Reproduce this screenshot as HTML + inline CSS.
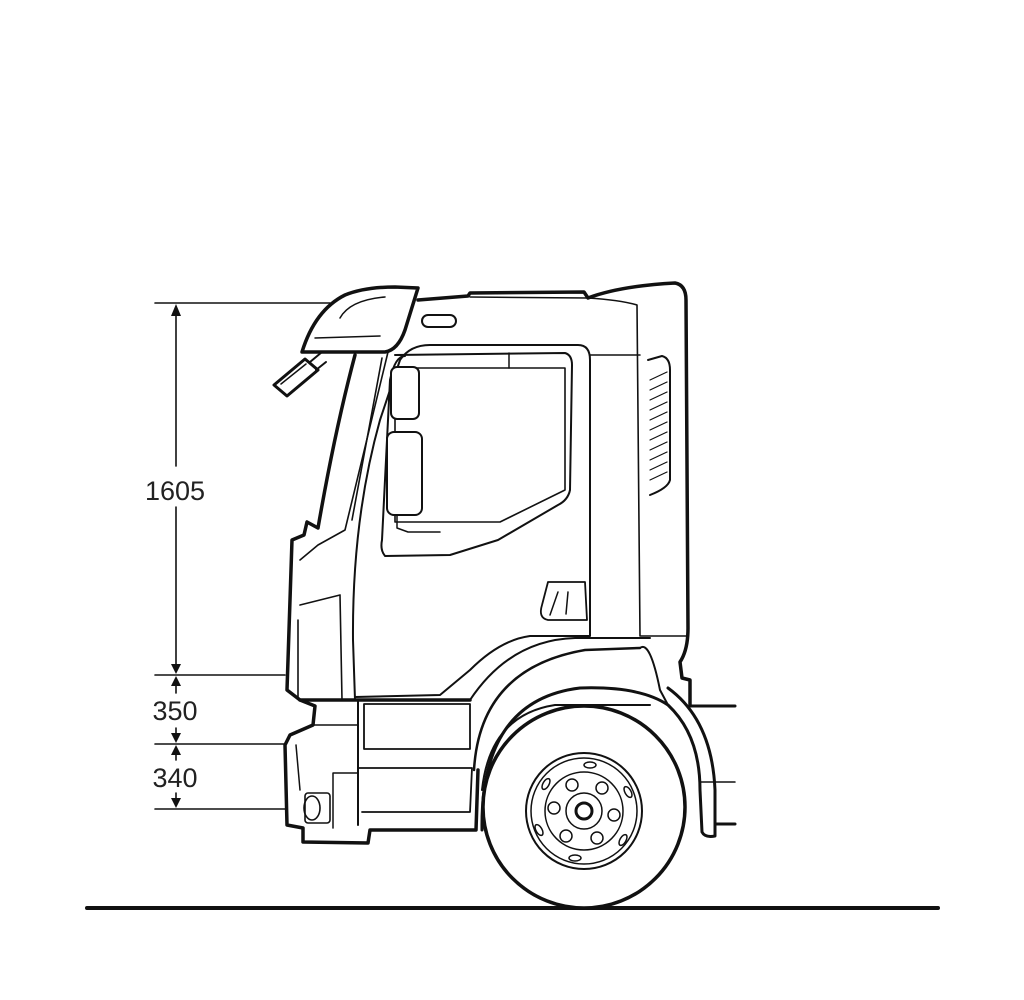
<!DOCTYPE html>
<html><head><meta charset="utf-8"><style>
html,body{margin:0;padding:0;background:#fff;}
svg{display:block;}
text{font-family:"Liberation Sans",sans-serif;font-size:27px;fill:#222;}
</style></head><body>
<svg width="1024" height="1000" viewBox="0 0 1024 1000" xmlns="http://www.w3.org/2000/svg">
<rect width="1024" height="1000" fill="#fff"/>
<g stroke="#111" fill="none" stroke-linecap="round" stroke-linejoin="round">
<g stroke-width="1.6">
<line x1="155" y1="303" x2="330" y2="303"/>
<line x1="155" y1="675" x2="285" y2="675"/>
<line x1="155" y1="744" x2="285" y2="744"/>
<line x1="155" y1="809" x2="285" y2="809"/>
<line x1="176" y1="312" x2="176" y2="466"/>
<line x1="176" y1="507" x2="176" y2="668"/>
<line x1="176" y1="680" x2="176" y2="693"/>
<line x1="176" y1="728" x2="176" y2="738"/>
<line x1="176" y1="750" x2="176" y2="760"/>
<line x1="176" y1="793" x2="176" y2="803"/>
</g>
<g fill="#111" stroke="none">
<polygon points="176,304 171,316 181,316"/>
<polygon points="176,674 171,664 181,664"/>
<polygon points="176,676 171,686 181,686"/>
<polygon points="176,743 171,733 181,733"/>
<polygon points="176,745 171,755 181,755"/>
<polygon points="176,808 171,798 181,798"/>
</g>
<line x1="87" y1="908" x2="938" y2="908" stroke-width="4"/>

<line x1="690" y1="706" x2="735" y2="706" stroke-width="3"/>
<line x1="700" y1="782" x2="735" y2="782" stroke-width="1.5"/>
<line x1="715" y1="824" x2="735" y2="824" stroke-width="3"/>

<circle cx="584" cy="807" r="101" stroke-width="3.5" fill="#fff"/>
<circle cx="584" cy="811" r="58" stroke-width="2"/>
<circle cx="584" cy="811" r="53" stroke-width="1.5"/>
<circle cx="584" cy="811" r="39" stroke-width="1.5"/>
<circle cx="584" cy="811" r="18" stroke-width="1.5"/>
<circle cx="584" cy="811" r="8" stroke-width="3"/>
<g stroke-width="1.5">
<circle cx="572" cy="785" r="6"/><circle cx="602" cy="788" r="6"/>
<circle cx="614" cy="815" r="6"/><circle cx="597" cy="838" r="6"/>
<circle cx="566" cy="836" r="6"/><circle cx="554" cy="808" r="6"/>
<ellipse cx="590" cy="765" rx="6" ry="3"/><ellipse cx="575" cy="858" rx="6" ry="3"/>
<ellipse cx="546" cy="784" rx="3" ry="6" transform="rotate(30 546 784)"/>
<ellipse cx="628" cy="792" rx="3" ry="6" transform="rotate(-30 628 792)"/>
<ellipse cx="539" cy="830" rx="3" ry="6" transform="rotate(-30 539 830)"/>
<ellipse cx="623" cy="840" rx="3" ry="6" transform="rotate(30 623 840)"/>
</g>

<path d="M482,830 Q480,700 580,688 Q640,686 668,705 Q700,735 700,790 L702,832 Q705,838 715,836 L715,790 Q712,720 668,688" stroke-width="3" fill="none"/>
<path d="M474,770 Q480,668 585,650 L640,648" stroke-width="2.5"/>
<path d="M482,790 Q490,715 555,705 L650,705" stroke-width="2"/>
<path d="M470,700 Q510,640 575,638 L650,638" stroke-width="2"/>
<path d="M640,648 Q650,640 660,690 L668,705" stroke-width="2"/>

<path d="M418,300 L468,296 L470,293 L584,292 L588,298 Q620,286 675,283 Q686,285 686,300 L688,628 Q688,650 680,662 L682,678 L690,680 L690,705" stroke-width="3.5"/>
<path d="M588,298 Q620,300 637,305 L640,636 L688,636" stroke-width="1.6"/>
<path d="M470,297 L588,298" stroke-width="1.5"/>
<path d="M302,352 Q315,310 345,295 Q365,287 395,287 L418,288 L405,330 Q398,350 385,352 Z" stroke-width="3.5" fill="#fff"/>
<path d="M315,338 L380,336" stroke-width="1.5"/>
<path d="M340,318 Q350,300 385,297" stroke-width="1.5"/>
<path d="M274,385 L305,359 L318,370 L287,396 Z" stroke-width="3" fill="#fff"/>
<path d="M281,384 L306,364" stroke-width="1.5"/>
<path d="M310,362 L322,352 M316,370 L326,362" stroke-width="2"/>
<rect x="422" y="315" width="34" height="12" rx="6" stroke-width="2"/>
<path d="M355,355 Q335,430 318,528 L307,522 L304,535 L292,540 L287,690 L300,700 L470,700" stroke-width="3.5"/>
<path d="M362,352 L388,352 L345,530 L318,545 L300,560" stroke-width="1.6"/>
<path d="M382,358 L352,520" stroke-width="1.6"/>
<path d="M355,700 L353,640 Q352,520 380,420 L400,360 Q410,345 430,345 L578,345 Q590,345 590,360 L590,636 L530,636 Q500,640 470,670 L440,695 L355,697" stroke-width="2"/>
<path d="M640,355 L590,355" stroke-width="1.5"/>
<path d="M395,355 L565,353 Q572,355 572,365 L570,490 Q568,500 558,505 L498,540 L450,555 L385,556 Q380,550 382,540 L390,380 Q395,356 405,356" stroke-width="2"/>
<path d="M395,368 L565,368 L565,490 L500,522 L395,522 Z" stroke-width="1.6"/>
<line x1="509" y1="353" x2="509" y2="368" stroke-width="1.5"/>
<rect x="391" y="367" width="28" height="52" rx="6" stroke-width="2" fill="#fff"/>
<rect x="387" y="432" width="35" height="83" rx="7" stroke-width="2" fill="#fff"/>
<path d="M397,515 L397,528 L408,532 L440,532" stroke-width="1.5"/>
<path d="M548,582 L585,582 L587,620 L548,620 Q538,618 542,605 Z" stroke-width="1.8"/>
<path d="M558,592 L550,615 M568,592 L566,614" stroke-width="1.5"/>
<path d="M648,360 L662,356 Q670,358 670,370 L670,480 Q668,488 650,495" stroke-width="2"/>
<g stroke-width="1.2">
<path d="M650,380 L667,372 M650,390 L667,382 M650,400 L667,392 M650,410 L667,402 M650,420 L667,412 M650,430 L667,422 M650,440 L667,432 M650,450 L667,442 M650,460 L667,452 M650,470 L667,462 M650,480 L667,472"/>
</g>
<path d="M300,605 L340,595 L342,700" stroke-width="1.6"/>
<path d="M298,620 L298,698" stroke-width="1.6"/>
<path d="M300,700 L315,706 L313,725 L290,735 L285,745 L287,825 L303,828 L303,842 L368,843 L370,830 L476,830 L478,770" stroke-width="3.5"/>
<path d="M358,700 L358,825" stroke-width="2"/>
<rect x="364" y="704" width="106" height="45" stroke-width="1.8"/>
<path d="M358,768 L472,768 L470,812 L362,812" stroke-width="1.8"/>
<path d="M313,725 L358,725" stroke-width="1.5"/>
<path d="M333,773 L358,773 M333,773 L333,828" stroke-width="1.5"/>
<ellipse cx="312" cy="808" rx="8" ry="12" stroke-width="1.6"/>
<rect x="305" y="793" width="25" height="30" rx="3" stroke-width="1.6"/>
<path d="M296,745 L300,790" stroke-width="1.5"/>
</g>
<text x="175" y="500" text-anchor="middle">1605</text>
<text x="175" y="720" text-anchor="middle">350</text>
<text x="175" y="787" text-anchor="middle">340</text>
</svg>
</body></html>
